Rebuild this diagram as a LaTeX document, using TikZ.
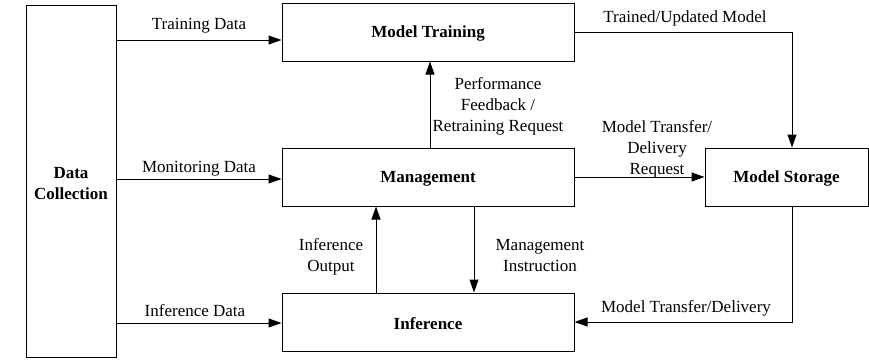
\documentclass[tikz,border=0pt]{standalone}
\usepackage{fontspec}
\setmainfont{Liberation Serif}
\usetikzlibrary{arrows.meta}
\newcommand{\lowerby}[2]{\raisebox{-#1}[\height][\depth]{#2}}
\begin{document}
\begin{tikzpicture}[x=1pt,y=-1pt,
  box/.style={draw,line width=1pt,rectangle,inner sep=0pt,font=\fontsize{17}{21}\selectfont\bfseries,align=center},
  lbl/.style={inner sep=0pt,font=\fontsize{17}{21}\selectfont,align=center},
  arr/.style={line width=1pt,-{Triangle[length=13pt,width=9pt]}}]
\useasboundingbox (0,0) rectangle (869,362);
\node[box,minimum width=90pt,minimum height=352pt] (dc) at (71,181) {\lowerby{3pt}{\parbox{80pt}{\centering Data\\Collection}}};
\node[box,minimum width=292pt,minimum height=58pt] (train) at (428,32) {\lowerby{1.5pt}{Model Training}};
\node[box,minimum width=292pt,minimum height=58pt] (mgmt) at (428,177) {\lowerby{1.5pt}{Management}};
\node[box,minimum width=292pt,minimum height=58pt] (inf) at (428,322) {\lowerby{1.5pt}{Inference}};
\node[box,minimum width=163pt,minimum height=58pt] (store) at (786.5,177) {\lowerby{1.5pt}{Model Storage}};
\coordinate (ytd) at (0,40);
\coordinate (ymd) at (0,179);
\coordinate (yid) at (0,323);
\coordinate (xpf) at (430,0);
\coordinate (xio) at (376,0);
\coordinate (xmi) at (474,0);
\coordinate (xst) at (792,0);
\draw[arr] (dc.east |- ytd) -- (train.west |- ytd);
\draw[arr] (dc.east |- ymd) -- (mgmt.west |- ymd);
\draw[arr] (dc.east |- yid) -- (inf.west |- yid);
\draw[arr] (mgmt.north -| xpf) -- (train.south -| xpf);
\draw[arr] (inf.north -| xio) -- (mgmt.south -| xio);
\draw[arr] (mgmt.south -| xmi) -- (inf.north -| xmi);
\draw[arr] (train.east) -| (store.north -| xst);
\draw[arr] (mgmt.east) -- (store.west);
\draw[arr] (store.south -| xst) |- (inf.east);
\node[lbl] (l1) at (199,26) {Training Data};
\node[lbl] (l2) at (199,169) {Monitoring Data};
\node[lbl] (l3) at (195,311) {Inference Data};
\node[lbl] (l4) at (498,106) {Performance\\Feedback /\\Retraining Request};
\node[lbl] (l5) at (657,149) {Model Transfer/\\Delivery\\Request};
\node[lbl] (l6) at (685,18) {Trained/Updated Model};
\node[lbl] (l7) at (331,257) {Inference\\Output};
\node[lbl] (l8) at (540,256) {Management\\Instruction};
\node[lbl] (l9) at (686,308) {Model Transfer/Delivery};
\end{tikzpicture}
\end{document}
